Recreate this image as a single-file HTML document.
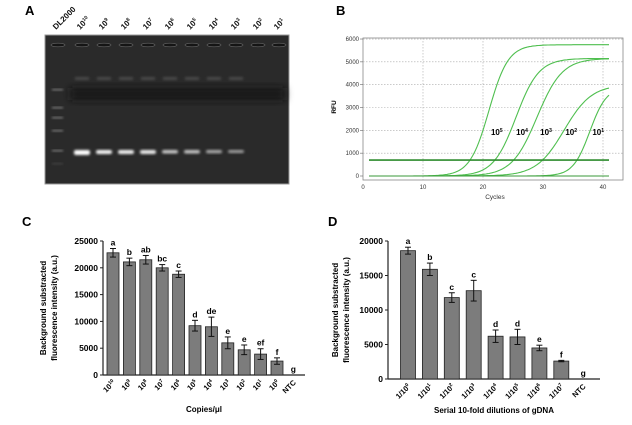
<!DOCTYPE html>
<html><head><meta charset="utf-8"><style>
html,body{margin:0;padding:0;background:#fff;width:632px;height:425px;overflow:hidden}
svg{display:block;font-family:"Liberation Sans",Arial,sans-serif}
</style></head><body>
<svg id="s" width="632" height="425" viewBox="0 0 632 425" xmlns="http://www.w3.org/2000/svg">
<defs>
<filter id="bl" x="-50%" y="-50%" width="200%" height="200%"><feGaussianBlur stdDeviation="1.2"/></filter>
<filter id="bl2" x="-50%" y="-50%" width="200%" height="200%"><feGaussianBlur stdDeviation="4"/></filter>
</defs>
<text x="25" y="15" font-size="13" font-weight="bold">A</text>
<rect x="45" y="35" width="244" height="149" fill="#2a2a2a" stroke="#999" stroke-width="1"/>
<rect x="70" y="88" width="215" height="12" fill="#161616" filter="url(#bl2)"/>
<g id="gel"></g>
<g id="glab" font-size="8" font-weight="bold" fill="#111"></g>
<text x="336" y="15" font-size="13" font-weight="bold">B</text>
<g id="pb"></g>
<text x="22" y="226" font-size="13" font-weight="bold">C</text>
<g id="pc"></g>
<text x="328" y="226" font-size="13" font-weight="bold">D</text>
<g id="pd"></g>
</svg>
<script>
const NS="http://www.w3.org/2000/svg";
function el(p,t,a,txt){const e=document.createElementNS(NS,t);for(const k in a)e.setAttribute(k,a[k]);if(txt!==undefined)e.innerHTML=txt;p.appendChild(e);return e;}
const gel=document.getElementById('gel');
const lanes=[58,82,104,126,148,170,192,214,236,258,279];
lanes.forEach(x=>el(gel,'ellipse',{cx:x,cy:45,rx:7,ry:1.8,fill:'#151515',stroke:'#666','stroke-width':0.6}));
[89,107,117,130,150,163].forEach((y,i)=>el(gel,'rect',{x:52,y:y,width:11,height:1.5,fill:i==5?'#444':'#888',filter:'url(#bl)'}));
const bands=[[82,255,5],[104,245,4],[126,240,4],[148,235,4],[170,200,3.5],[192,195,3.5],[214,170,3.2],[236,160,3]];
bands.forEach(([x,c,h])=>{el(gel,'rect',{x:x-8,y:150,width:16,height:h,rx:2,fill:`rgb(${c},${c},${c})`,filter:'url(#bl)'});
 el(gel,'rect',{x:x-7,y:77,width:14,height:3,fill:'#4a4a4a',filter:'url(#bl)'});});
const gl=document.getElementById('glab');
const labs=['DL2000','10<tspan font-size="5" dy="-3">10</tspan>','10<tspan font-size="5" dy="-3">9</tspan>','10<tspan font-size="5" dy="-3">8</tspan>','10<tspan font-size="5" dy="-3">7</tspan>','10<tspan font-size="5" dy="-3">6</tspan>','10<tspan font-size="5" dy="-3">5</tspan>','10<tspan font-size="5" dy="-3">4</tspan>','10<tspan font-size="5" dy="-3">3</tspan>','10<tspan font-size="5" dy="-3">2</tspan>','10<tspan font-size="5" dy="-3">1</tspan>'];
labs.forEach((l,i)=>el(gl,'text',{x:0,y:0,transform:`translate(${lanes[i]-2},${30}) rotate(-45)`},l));
const pb=document.getElementById('pb');
const X=c=>363+c*6, Y=v=>176-v*0.02283;
el(pb,'rect',{x:363,y:38,width:260,height:142,fill:'#fff',stroke:'#888','stroke-width':0.8});
for(let c=10;c<=40;c+=10)el(pb,'line',{x1:X(c),y1:38,x2:X(c),y2:180,stroke:'#aaa','stroke-width':0.6,'stroke-dasharray':'1.5,1.5'});
for(let v=1000;v<=6000;v+=1000)el(pb,'line',{x1:363,y1:Y(v),x2:623,y2:Y(v),stroke:'#aaa','stroke-width':0.6,'stroke-dasharray':'1.5,1.5'});
for(let v=0;v<=6000;v+=1000){el(pb,'text',{x:359,y:Y(v)+2,'font-size':6,'text-anchor':'end',fill:'#333'},v);el(pb,'line',{x1:360,y1:Y(v),x2:363,y2:Y(v),stroke:'#666','stroke-width':0.6});}
for(let c=0;c<=40;c+=10)el(pb,'text',{x:X(c),y:189,'font-size':6,'text-anchor':'middle',fill:'#333'},c);
el(pb,'text',{x:495,y:199,'font-size':6.5,'text-anchor':'middle',fill:'#333'},'Cycles');
el(pb,'text',{x:0,y:0,'font-size':6.5,'font-weight':'bold','text-anchor':'middle',transform:'translate(336,107) rotate(-90)'},'RFU');
const cur=[[21,5750,1.6],[25.5,5150,1.9],[29,5150,2.1],[33.5,4000,2.3],[37.8,3900,1.4]];
cur.forEach(([m,p,k])=>{let d='';for(let c=1;c<=41;c+=0.25){const v=p/(1+Math.exp(-(c-m)/k));d+=(d?'L':'M')+X(c).toFixed(1)+','+Y(v).toFixed(1);}el(pb,'path',{d:d,fill:'none',stroke:'#4fbf4f','stroke-width':1.1});});
el(pb,'line',{x1:X(1),y1:Y(0),x2:X(41),y2:Y(0),stroke:'#3a9a3a','stroke-width':1});
el(pb,'line',{x1:X(1),y1:Y(700),x2:X(41),y2:Y(700),stroke:'#2e8b2e','stroke-width':1.6});
[['5',22.3],['4',26.5],['3',30.5],['2',34.7],['1',39.2]].forEach(([e,c])=>el(pb,'text',{x:X(c),y:Y(1800),'font-size':8,'font-weight':'bold','text-anchor':'middle'},`10<tspan font-size="5" dy="-3">${e}</tspan>`));
function bars(g,ax,y0,ppk,ymax,step,x0,sp,bw,vals,errs,lets,xl,axEnd,xlabel,xly,ylx){
 const Yv=v=>y0-v/1000*ppk;
 el(g,'line',{x1:ax,y1:Yv(ymax),x2:ax,y2:y0,stroke:'#222','stroke-width':1.2});
 el(g,'line',{x1:ax,y1:y0,x2:axEnd,y2:y0,stroke:'#222','stroke-width':1.2});
 for(let v=0;v<=ymax;v+=step){el(g,'line',{x1:ax-3,y1:Yv(v),x2:ax,y2:Yv(v),stroke:'#222','stroke-width':1});el(g,'text',{x:ax-5,y:Yv(v)+3,'font-size':8.5,'font-weight':'bold','text-anchor':'end'},v);}
 vals.forEach((v,i)=>{const cx=x0+i*sp;
  if(v>0)el(g,'rect',{x:cx-bw/2,y:Yv(v),width:bw,height:y0-Yv(v),fill:'#7c7c7c',stroke:'#222','stroke-width':0.8});
  const e=errs[i];if(e){el(g,'line',{x1:cx,y1:Yv(v+e),x2:cx,y2:Yv(v-e),stroke:'#111','stroke-width':1});
   [v+e,v-e].forEach(w=>el(g,'line',{x1:cx-3,y1:Yv(w),x2:cx+3,y2:Yv(w),stroke:'#111','stroke-width':1}));}
  el(g,'text',{x:cx,y:Yv(v+(e||0))-3,'font-size':8.5,'font-weight':'bold','text-anchor':'middle'},lets[i]);
  el(g,'text',{x:0,y:0,'font-size':7.5,'font-weight':'bold','text-anchor':'end',transform:`translate(${cx+3},${y0+8}) rotate(-45)`},xl[i]);
 });
 el(g,'text',{x:(ax+axEnd)/2,y:xly,'font-size':8,'font-weight':'bold','text-anchor':'middle'},xlabel);
 el(g,'text',{x:0,y:0,'font-size':8,'font-weight':'bold','text-anchor':'middle',transform:`translate(${ylx},${(Yv(ymax)+y0)/2}) rotate(-90)`},'Background substracted');
 el(g,'text',{x:0,y:0,'font-size':8,'font-weight':'bold','text-anchor':'middle',transform:`translate(${ylx+11},${(Yv(ymax)+y0)/2}) rotate(-90)`},'fluorescence intensity (a.u.)');
}
const sup=e=>`10<tspan font-size="5" dy="-3">${e}</tspan>`;
bars(document.getElementById('pc'),103,375,5.36,25000,5000,113,16.4,12,
 [22800,21100,21500,20000,18800,9200,9000,6000,4700,3900,2600,0],
 [800,700,800,600,600,1000,1800,1100,900,1000,600,0],
 ['a','b','ab','bc','c','d','de','e','e','ef','f','g'],
 [sup(10),sup(9),sup(8),sup(7),sup(6),sup(5),sup(4),sup(3),sup(2),sup(1),sup(0),'NTC'],305,'Copies/μl',412,46);
const sd=e=>`1/10<tspan font-size="5" dy="-3">${e}</tspan>`;
bars(document.getElementById('pd'),388,379,6.9,20000,5000,408,21.9,15,
 [18600,15900,11800,12800,6200,6100,4500,2600,0],
 [500,900,700,1500,900,1100,400,100,0],
 ['a','b','c','c','d','d','e','f','g'],
 [sd(0),sd(1),sd(2),sd(3),sd(4),sd(5),sd(6),sd(7),'NTC'],600,'Serial 10-fold dilutions of gDNA',413,338);
</script>
</body></html>
